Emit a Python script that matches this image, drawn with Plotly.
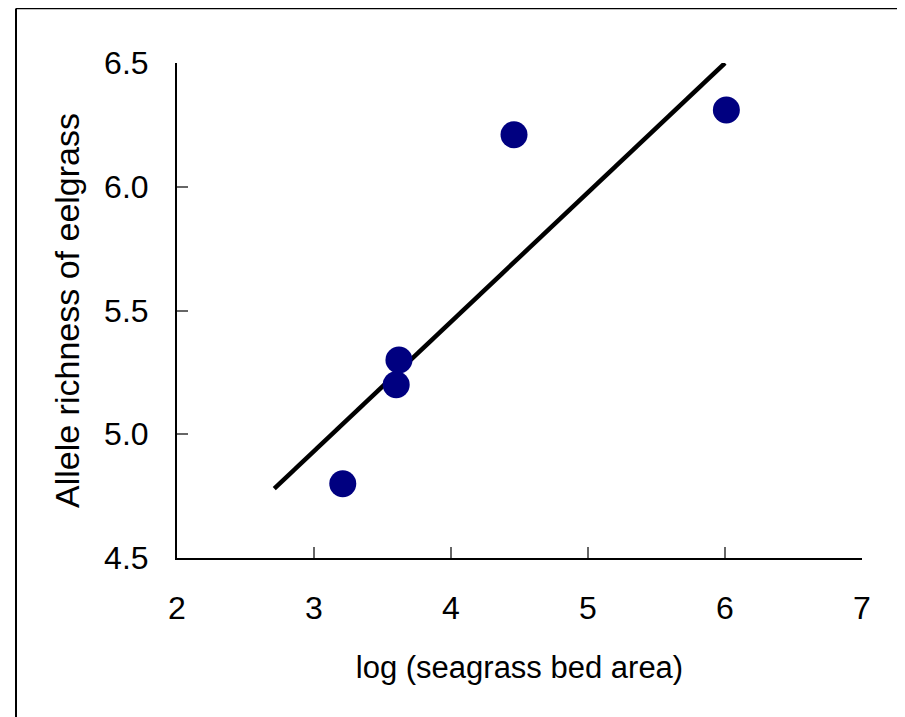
import plotly.graph_objects as go

# Data
bed_area_log = [3.21, 3.60, 3.62, 4.46, 6.01]
allele_richness = [4.80, 5.20, 5.30, 6.21, 6.31]

# Regression line endpoints (as drawn)
fit_x = [2.71, 6.00]
fit_y = [4.78, 6.50]

x_ticks = [2, 3, 4, 5, 6, 7]
y_ticks = [4.5, 5.0, 5.5, 6.0, 6.5]
y_tick_text = ["4.5", "5.0", "5.5", "6.0", "6.5"]

# page has an 8px body margin; compensate so the plot lands where the reference has it
OFF = 8
W, H = 905 - OFF, 717 - OFF
L, T = 177 - OFF, 63 - OFF
R = W - (862 - OFF)
B = H - (558 - OFF)
pw, ph = W - L - R, H - T - B

def px_to_paper_x(px):
    return (px - OFF - L) / pw

def px_to_paper_y(py):
    return (H - B - (py - OFF)) / ph

fig = go.Figure()
fig.add_trace(go.Scatter(
    x=fit_x, y=fit_y, mode="lines",
    line=dict(color="black", width=4.5),
    showlegend=False, hoverinfo="skip", cliponaxis=False,
))
fig.add_trace(go.Scatter(
    x=bed_area_log, y=allele_richness, mode="markers",
    marker=dict(color="#000080", size=27, line=dict(width=0)),
    showlegend=False, cliponaxis=False,
))

font_family = "Liberation Sans, Arial, sans-serif"

fig.update_layout(
    width=W, height=H,
    margin=dict(l=L, r=R, t=T, b=B, pad=0),
    paper_bgcolor="white", plot_bgcolor="white",
    font=dict(family=font_family, color="black"),
    xaxis=dict(
        range=[2, 7], tickvals=x_ticks, ticks="inside", ticklen=11,
        tickcolor="#666666", tickwidth=1.5,
        showline=True, linecolor="black", linewidth=2,
        showgrid=False, zeroline=False,
        tickfont=dict(size=32, family=font_family, color="black"),
        ticklabelstandoff=21,
        title=dict(text="log (seagrass bed area)", font=dict(size=31, family=font_family, color="black"), standoff=31),
    ),
    yaxis=dict(
        range=[4.5, 6.5], tickvals=y_ticks, ticktext=y_tick_text, ticks="inside", ticklen=11,
        tickcolor="#666666", tickwidth=1.5,
        showline=True, linecolor="black", linewidth=2,
        showgrid=False, zeroline=False,
        tickfont=dict(size=32, family=font_family, color="black"),
        ticklabelstandoff=20,
        title=dict(text="Allele richness of eelgrass", font=dict(size=34, family=font_family, color="black"), standoff=14),
    ),
    shapes=[
        dict(type="line", xref="paper", yref="paper",
             x0=px_to_paper_x(16), x1=px_to_paper_x(910),
             y0=px_to_paper_y(8.5), y1=px_to_paper_y(8.5),
             line=dict(color="black", width=1.5)),
        dict(type="line", xref="paper", yref="paper",
             x0=px_to_paper_x(16), x1=px_to_paper_x(16),
             y0=px_to_paper_y(8.5), y1=px_to_paper_y(722),
             line=dict(color="black", width=2)),
    ],
)

fig.write_html("out.html", config={"displayModeBar": False})
